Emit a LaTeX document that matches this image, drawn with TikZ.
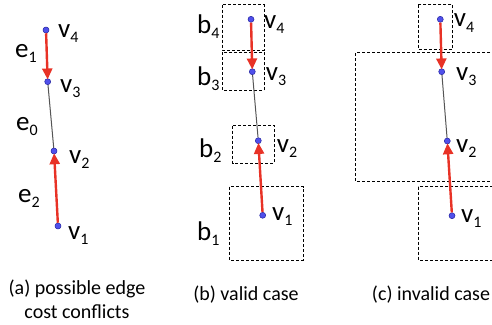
\documentclass[tikz,border=0pt]{standalone}
\usepackage{fontspec}
\setmainfont{Carlito}
\usetikzlibrary{arrows.meta}
\definecolor{arrred}{RGB}{232,50,38}
\definecolor{dotblue}{RGB}{80,80,235}
\definecolor{dotedge}{RGB}{35,35,160}
\definecolor{segray}{RGB}{85,85,85}
\newcommand\lbl[2]{#1\raisebox{-0.2em}{\fontsize{16}{16}\selectfont #2}}
\tikzset{
  dot/.style={circle,fill=dotblue,draw=dotedge,line width=0.5pt,inner sep=0pt,minimum size=6pt},
  redarrow/.style={draw=arrred,line width=2.4pt,-{Triangle[length=11pt,width=10pt]},shorten >=-1pt},
  seg/.style={draw=segray,line width=1pt},
  vlab/.style={anchor=base west,inner sep=0pt,font=\fontsize{27}{27}\selectfont},
  boxd/.style={draw=black,line width=0.7pt,dash pattern=on 3pt off 2pt},
  captext/.style={inner sep=0pt,font=\fontsize{20}{24}\selectfont,align=center}
}
\begin{document}
\begin{tikzpicture}[x=1pt,y=-1pt]
\useasboundingbox (0,0) rectangle (492,324);
\clip (0,0) rectangle (492,324);
% panel a
\node[dot] (a4) at (46,30) {};
\node[dot] (a3) at (47.7,81.7) {};
\node[dot] (a2) at (54,151) {};
\node[dot] (a1) at (58,226) {};
\draw[seg] (a3) -- (a2);
\draw[redarrow] (a4) -- (a3);
\draw[redarrow] (a1) -- (a2);
\node[vlab] (la4) at (58,37) {\lbl{v}{4}};
\node[vlab] (la3) at (60,92) {\lbl{v}{3}};
\node[vlab] (la2) at (69,163) {\lbl{v}{2}};
\node[vlab] (la1) at (68,239) {\lbl{v}{1}};
\node[vlab] (le1) at (15,57) {\lbl{e}{1}};
\node[vlab] (le0) at (16,130) {\lbl{e}{0}};
\node[vlab] (le2) at (18,202) {\lbl{e}{2}};
% panel b
\draw[boxd] (222.7,4.7) rectangle (264,50);
\draw[boxd] (222.7,52.3) rectangle (264,90.7);
\draw[boxd] (232.7,125.7) rectangle (274,163.3);
\draw[boxd] (229.7,186.7) rectangle (303.3,260);
\node[dot] (b4) at (251,19.3) {};
\node[dot] (b3) at (252.3,71.7) {};
\node[dot] (b2) at (258.3,140.7) {};
\node[dot] (b1) at (262.7,215.3) {};
\draw[seg] (b3) -- (b2);
\draw[redarrow] (b4) -- (b3);
\draw[redarrow] (b1) -- (b2);
\node[vlab] (lb4) at (264,28) {\lbl{v}{4}};
\node[vlab] (lb3) at (265.7,80) {\lbl{v}{3}};
\node[vlab] (lb2) at (276.7,152) {\lbl{v}{2}};
\node[vlab] (lb1) at (272,220) {\lbl{v}{1}};
\node[vlab] (bb4) at (197,33) {\lbl{b}{4}};
\node[vlab] (bb3) at (197,85) {\lbl{b}{3}};
\node[vlab] (bb2) at (199,157) {\lbl{b}{2}};
\node[vlab] (bb1) at (197,240) {\lbl{b}{1}};
% panel c
\draw[boxd] (418.3,4.7) rectangle (452.7,49.3);
\draw[boxd] (500,52.7) -- (355.7,52.7) -- (355.7,181.7) -- (500,181.7);
\draw[boxd] (418.3,186.7) rectangle (500,260);
\node[dot] (c4) at (440.3,19.3) {};
\node[dot] (c3) at (441.7,71.7) {};
\node[dot] (c2) at (447.3,141) {};
\node[dot] (c1) at (452,215.7) {};
\draw[seg] (c3) -- (c2);
\draw[redarrow] (c4) -- (c3);
\draw[redarrow] (c1) -- (c2);
\node[vlab] (lc4) at (453.7,27) {\lbl{v}{4}};
\node[vlab] (lc3) at (456,80) {\lbl{v}{3}};
\node[vlab] (lc2) at (456,152) {\lbl{v}{2}};
\node[vlab] (lc1) at (461,222) {\lbl{v}{1}};
% captions
\node[captext] (capa) at (77,299) {(a) possible edge\\cost conflicts};
\node[captext,anchor=base] (capb) at (246,300) {(b) valid case};
\node[captext,anchor=base] (capc) at (431,300) {(c) invalid case};
\end{tikzpicture}
\end{document}
